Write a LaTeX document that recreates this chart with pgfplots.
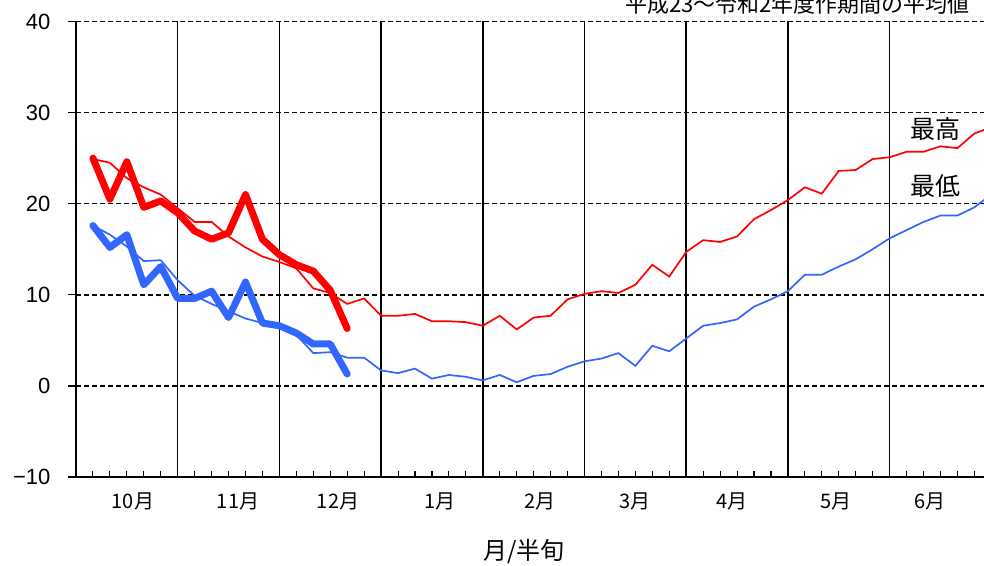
\documentclass[border=0pt]{standalone}
\usepackage{fontspec}
\setmainfont{Liberation Sans}
\newfontfamily\jp{Noto Sans CJK JP}
\usepackage{pgfplots}
\pgfplotsset{compat=1.18}
\usepackage{pgfplotstable}
\definecolor{myblue}{RGB}{51,102,255}
\definecolor{myred}{RGB}{255,0,0}

\pgfplotstableread{
i avgmax avgmin
1 24.9 17.6
2 24.5 16.6
3 22.8 15.3
4 21.8 13.7
5 21.0 13.8
6 19.5 11.6
7 18.0 9.9
8 18.0 9.0
9 16.4 8.2
10 15.2 7.4
11 14.2 6.9
12 13.6 6.4
13 12.9 5.6
14 10.7 3.6
15 10.2 3.7
16 9.0 3.1
17 9.6 3.1
18 7.7 1.7
19 7.7 1.4
20 7.9 1.9
21 7.1 0.8
22 7.1 1.2
23 7.0 1.0
24 6.6 0.6
25 7.7 1.2
26 6.2 0.4
27 7.5 1.1
28 7.7 1.3
29 9.5 2.1
30 10.1 2.7
31 10.4 3.0
32 10.2 3.6
33 11.1 2.2
34 13.3 4.4
35 12.0 3.8
36 14.7 5.2
37 16.0 6.6
38 15.8 6.9
39 16.4 7.3
40 18.3 8.7
41 19.3 9.5
42 20.4 10.4
43 21.8 12.2
44 21.1 12.2
45 23.6 13.1
46 23.7 13.9
47 24.9 15.0
48 25.1 16.2
49 25.7 17.1
50 25.7 18.0
51 26.3 18.7
52 26.1 18.7
53 27.7 19.6
54 28.4 21.0
}\avg

\pgfplotstableread{
i tmax tmin
1 25.0 17.6
2 20.5 15.2
3 24.6 16.6
4 19.6 11.1
5 20.3 13.1
6 19.0 9.6
7 17.0 9.6
8 16.1 10.4
9 16.8 7.5
10 21.0 11.4
11 16.1 6.9
12 14.4 6.6
13 13.3 5.8
14 12.6 4.6
15 10.5 4.6
16 6.3 1.3
}\cur

\begin{document}
\begin{tikzpicture}
\begin{axis}[name=ax, at={(0,0)}, anchor=south west,
  width=908pt, height=455.5pt, scale only axis,
  xmin=0, xmax=53.57, ymin=-10, ymax=40,
  axis x line*=bottom, axis y line*=left,
  axis line style={-, line width=1.5pt, black},
  ytick={-10,0,10,20,30,40},
  yticklabels={−10,0,10,20,30,40},
  ymajorgrids,
  major grid style={black, line width=1.4pt, dash pattern=on 5pt off 3pt},
  xtick align=inside, ytick align=outside,
  major tick length=8pt, minor tick length=6pt,
  y tick style={black, line width=1.3pt},
  xtick={3.36,9.56,15.46,21.47,27.37,32.98,38.70,44.84,50.38},
  xticklabels={10月,11月,12月,1月,2月,3月,4月,5月,6月},
  major x tick style={draw=none},
  minor xtick={1,2,...,53},
  minor x tick style={black, line width=1.1pt},
  extra x ticks={6,12,18,24,30,36,42,48},
  extra x tick labels={},
  extra x tick style={grid=major, major grid style={solid, black, line width=1.5pt}},
  xticklabel style={font=\jp\fontsize{20}{20}\selectfont, yshift=-12pt},
  yticklabel style={font=\fontsize{22}{22}\selectfont, xshift=-14pt},
  clip=true,
]
\addplot[myred, line width=1.7pt] table[x=i,y=avgmax]{\avg};
\addplot[myblue, line width=1.7pt] table[x=i,y=avgmin]{\avg};
\addplot[myred, line width=7pt, line cap=round, line join=round] table[x=i,y=tmax]{\cur};
\addplot[myblue, line width=7pt, line cap=round, line join=round] table[x=i,y=tmin]{\cur};
\node[font=\jp\fontsize{25}{25}\selectfont] at (axis cs:50.7,28.2) {最高};
\node[font=\jp\fontsize{25}{25}\selectfont] at (axis cs:50.7,21.9) {最低};
\end{axis}
\node[anchor=base west, inner sep=0pt, font=\jp\fontsize{22}{22}\selectfont] at ([xshift=549pt,yshift=9pt]ax.north west) {平成23～令和2年度作期間の平均値};
\node[font=\jp\fontsize{24}{24}\selectfont] at ([xshift=-6pt,yshift=-75pt]ax.south) {月/半旬};
\pgfresetboundingbox
\path[use as bounding box] ([xshift=-76pt,yshift=-88pt]ax.south west) rectangle ([yshift=21.5pt]ax.north east);
\end{tikzpicture}
\end{document}
